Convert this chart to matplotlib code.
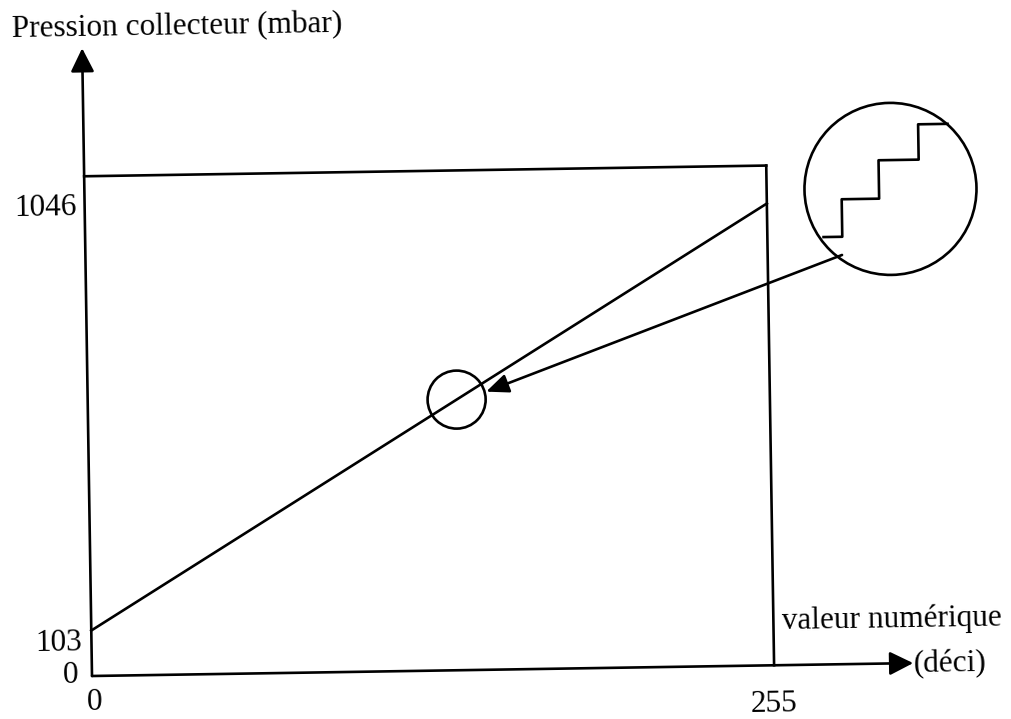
import matplotlib.pyplot as plt
from matplotlib.patches import Ellipse
from matplotlib.transforms import Affine2D

# values
x_num = [0, 255]            # valeur numerique (deci)
y_press = [103, 1046]       # pression collecteur (mbar)
y_top = 1132                # top edge of the frame
x_tip = 307                 # end of the x arrow
y_tip = 1422                # end of the y arrow
stair_x = [276, 283, 283, 297, 297, 312, 312, 323]
stair_y = [968, 968, 1053, 1053, 1140, 1140, 1220, 1220]

plt.rcParams['font.family'] = ['Liberation Serif', 'DejaVu Serif']

fig = plt.figure(figsize=(10.12, 7.19), dpi=100)
ax = fig.add_axes([0, 0, 1, 1])
ax.set_xlim(-34.39, 343.9)
ax.set_ylim(-97.4, 1531.1)
ax.axis('off')

# the scan is tilted a little, turn everything around the origin
tilt = 0.9
tr = ax.transData + Affine2D().rotate_deg_around(92, 43, tilt)

lw = 1.9
k = 'black'
axis_arrow = dict(arrowstyle='-|>', color=k, lw=lw, mutation_scale=36,
                  shrinkA=0, shrinkB=0)

# axes with arrows
ax.annotate('', xy=(0, y_tip), xytext=(0, 0), xycoords=tr, textcoords=tr,
            arrowprops=axis_arrow)
ax.annotate('', xy=(x_tip, 0), xytext=(0, 0), xycoords=tr, textcoords=tr,
            arrowprops=axis_arrow)

# frame
ax.plot([0, x_num[1]], [y_top, y_top], color=k, lw=lw, transform=tr)
ax.plot([x_num[1], x_num[1]], [0, y_top], color=k, lw=lw, transform=tr)

# characteristic
ax.plot(x_num, y_press, color=k, lw=lw, transform=tr)

# zoom circles
xm = 137.9
ym = y_press[0] + (y_press[1] - y_press[0]) * xm / x_num[1]
ax.add_patch(Ellipse((xm, ym), 21.7, 131.4, fill=False, ec=k, lw=lw, transform=tr))
ax.add_patch(Ellipse((301.3, 1074.7), 64.3, 389.6, fill=False, ec=k, lw=lw, transform=tr))
ax.plot(stair_x, stair_y, color=k, lw=lw, transform=tr)
ax.annotate('', xy=(149.0, 629.9), xytext=(282.8, 926.8), xycoords=tr, textcoords=tr,
            arrowprops=dict(arrowstyle='-|>,head_length=0.4,head_width=0.17',
                            color=k, lw=lw, mutation_scale=34,
                            shrinkA=0, shrinkB=0))

fs = 22.5
kw = dict(fontsize=fs, transform=tr, rotation=tilt, rotation_mode='anchor')
ax.text(-26.2, 1450, 'Pression collecteur (mbar)', ha='left', va='baseline', **kw)
ax.text(-2.9, 1044.6, str(y_press[1]), ha='right', va='baseline', **kw)
ax.text(-3.6, 59.3, str(y_press[0]), ha='right', va='baseline', **kw)
ax.text(-5.3, -15.4, '0', ha='right', va='baseline', **kw)
ax.text(0.9, -92, '0', ha='center', va='bottom', **kw)
ax.text(254.7, -106, '255', ha='center', va='baseline', **kw)
ax.text(258.2, 82, 'valeur numérique', ha='left', va='baseline', **kw)
ax.text(x_tip, -4.3, '(déci)', ha='left', va='center', **kw)

fig.savefig('out.png', dpi=100)
